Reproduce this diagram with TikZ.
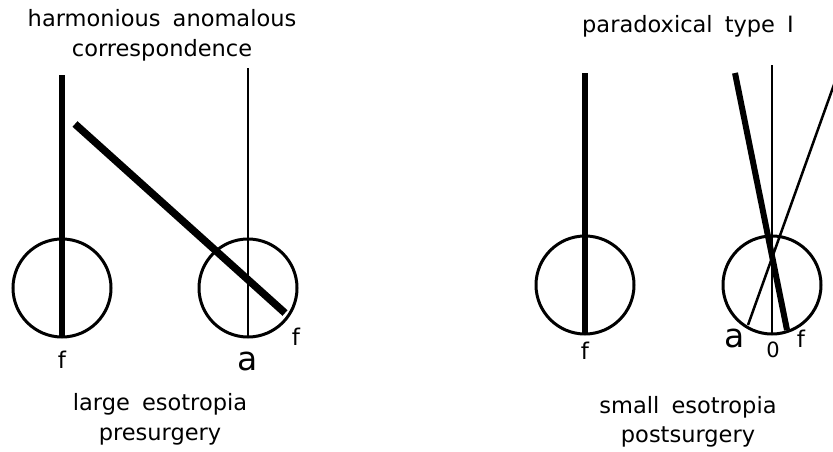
\documentclass[tikz,border=0pt]{standalone}
\usepackage{fontspec}
\setmainfont{DejaVu Sans}[WordSpace=1.7]
\usetikzlibrary{positioning}
\tikzset{
  eyeball/.style={draw, circle, line width=3pt, minimum size=98pt, inner sep=0pt, outer sep=0pt},
  fixaxis/.style={line width=6pt},
  slantaxis/.style={line width=7.5pt},
  refaxis/.style={line width=2.5pt},
  caption/.style={font=\fontsize{22.5}{29}\selectfont, anchor=base, inner sep=0pt},
  eyelabel/.style={font=\fontsize{23}{26}\selectfont, anchor=base, inner sep=0pt},
  biglabel/.style={font=\fontsize{33}{36}\selectfont, anchor=base, inner sep=0pt}
}

\begin{document}
\begin{tikzpicture}[x=1pt, y=-1pt]
  \useasboundingbox (0,0) rectangle (833,452);

  % presurgery
  \node[caption] (titleA) at (162,27) {harmonious anomalous};
  \node[caption] (titleB) at (162,57) {correspondence};
  \node[eyeball] (fixL) at (62,288) {};
  \node[eyeball] (devL) at (248,288) {};
  \coordinate (fixLtop) at (62,75);
  \coordinate (devLtop) at (248,68);
  \coordinate (imgL) at (75,124);
  \coordinate (fovL) at (285,313);
  \draw[fixaxis] (fixL.south) -- (fixLtop);
  \draw[refaxis] (devL.south) -- (devLtop);
  \draw[slantaxis] (imgL) -- (fovL);
  \node[eyelabel] (fL) at (62,368) {f};
  \node[biglabel] (aL) at (248,370) {a};
  \node[eyelabel] (fovlabL) at (296,345) {f};
  \node[caption] (capA) at (160,410) {large esotropia};
  \node[caption] (capB) at (160,440) {presurgery};

  % postsurgery
  \node[caption] (titleC) at (688,33) {paradoxical type I};
  \node[eyeball] (fixR) at (585,285) {};
  \node[eyeball] (devR) at (772,285) {};
  \coordinate (fixRtop) at (585,73);
  \coordinate (devRtop) at (772,65);
  \coordinate (imgR) at (735,73);
  \coordinate (fovR) at (787,330);
  \coordinate (anoR) at (748,325);
  \coordinate (anoRtop) at (841,65);
  \draw[fixaxis] (fixR.south) -- (fixRtop);
  \draw[refaxis] (devR.south) -- (devRtop);
  \draw[fixaxis] (imgR) -- (fovR);
  \draw[refaxis] (anoR) -- (anoRtop);
  \node[eyelabel] (fR) at (585,359) {f};
  \node[biglabel] (aR) at (735,347) {a};
  \node[eyelabel, font=\fontsize{21}{24}\selectfont] (zeroR) at (773,357) {0};
  \node[eyelabel] (fovlabR) at (801,347) {f};
  \node[caption] (capC) at (688,413) {small esotropia};
  \node[caption] (capD) at (688,442) {postsurgery};
\end{tikzpicture}
\end{document}
